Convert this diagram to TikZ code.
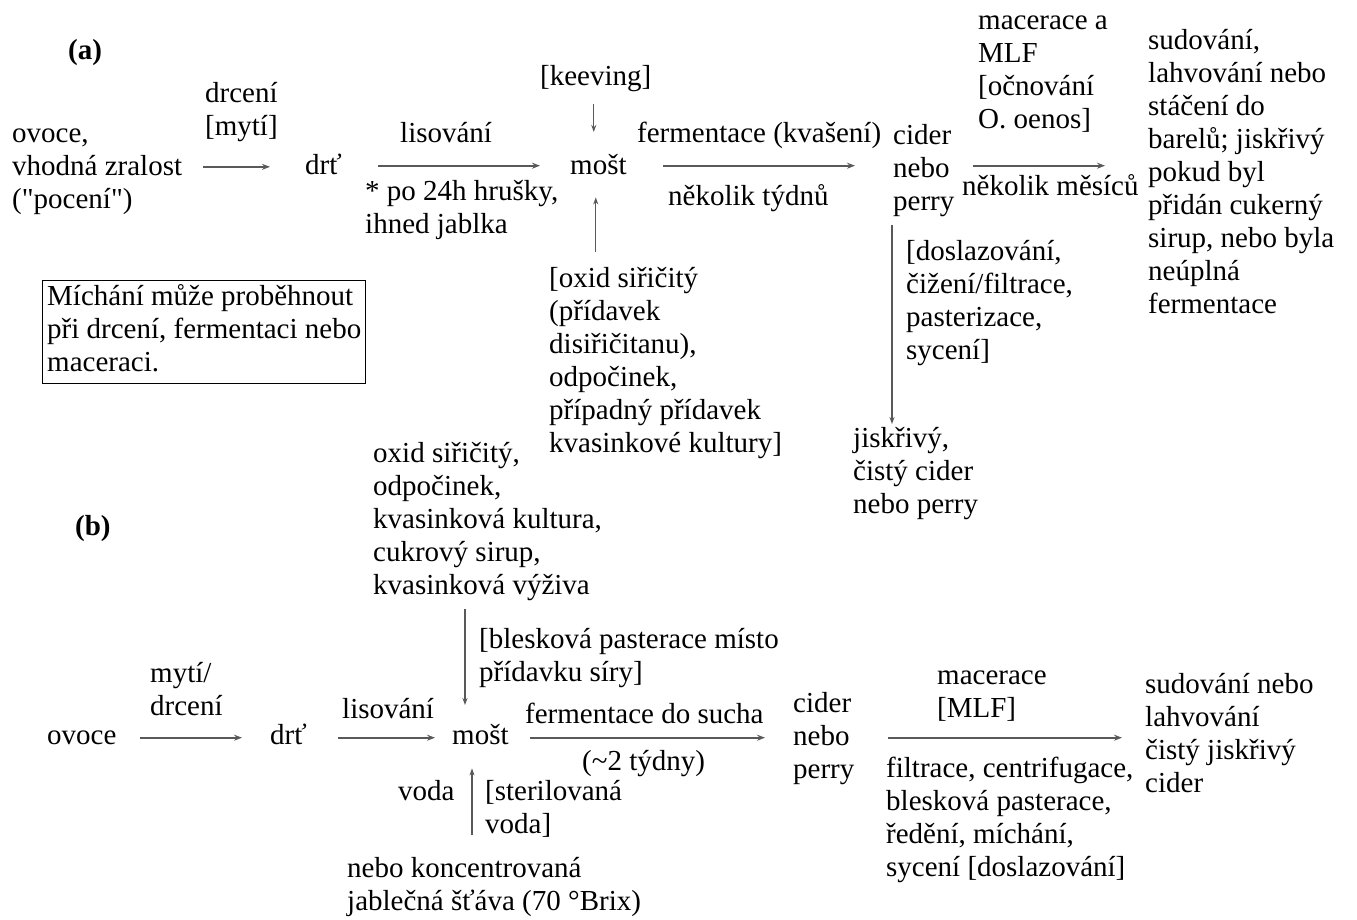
\documentclass[tikz,border=0pt]{standalone}
\usepackage{fontspec}
\setmainfont{Liberation Serif}
\usetikzlibrary{arrows.meta,calc}
\tikzset{
  txt/.style={font=\fontsize{29}{33}\selectfont, align=left, inner sep=0pt, anchor=north west},
  arr/.style={draw=black!65, line width=1.8pt, -{Stealth[length=8pt,width=6pt]}},
  varr/.style={draw=black!65, line width=1.4pt, -{Stealth[length=7pt,width=5pt]}},
  notebox/.style={txt, draw=black, line width=1.4pt, inner xsep=4pt, inner ysep=2pt, minimum width=323pt}
}
\begin{document}
\begin{tikzpicture}[x=1pt,y=-1pt]
\useasboundingbox[fill=white] (0,0) rectangle (1357,920);

% ---------- (a) ----------
\node[txt] (labA) at (68,36) {\strut\textbf{(a)}};
\node[txt] (a_myti) at (205,79) {\strut drcení\\{}[mytí]};
\node[txt] (a_ovoce) at (12,119) {\strut ovoce,\\vhodná zralost\\(\textquotedbl pocení\textquotedbl)};
\node[txt] (a_drt) at (305,151) {\strut drť};
\node[txt] (a_lis) at (400,119) {\strut lisování};
\node[txt] (a_po) at (365,177) {\strut * po 24h hrušky,\\ihned jablka};
\node[txt] (a_keev) at (540,62) {\strut [keeving]};
\node[txt] (a_most) at (570,151) {\strut mošt};
\node[txt] (a_oxid) at (549,264) {\strut [oxid siřičitý\\(přídavek\\disiřičitanu),\\odpočinek,\\případný přídavek\\kvasinkové kultury]};
\node[txt] (a_ferm) at (637,119) {\strut fermentace (kvašení)};
\node[txt] (a_nek) at (668,182) {\strut několik týdnů};
\node[txt] (a_cider) at (893,121) {\strut cider\\nebo\\perry};
\node[txt] (a_mac) at (978,6) {\strut macerace a\\MLF\\{}[očnování\\O. oenos]};
\node[txt] (a_mes) at (962,172) {\strut několik měsíců};
\node[txt] (a_sud) at (1148,26) {\strut sudování,\\lahvování nebo\\stáčení do\\barelů; jiskřivý\\pokud byl\\přidán cukerný\\sirup, nebo byla\\neúplná\\fermentace};
\node[txt] (a_dosl) at (906,237) {\strut [doslazování,\\čižení/filtrace,\\pasterizace,\\sycení]};
\node[txt] (a_jisk) at (853,424) {\strut jiskřivý,\\čistý cider\\nebo perry};
\node[notebox] (a_box) at (42,280) {\strut Míchání může proběhnout\\při drcení, fermentaci nebo\\maceraci.\strut};

\draw[arr] ($(a_ovoce.west)+(191,0)$) -- ($(a_ovoce.west -| a_drt.west)+(-35,0)$);
\draw[arr] ($(a_drt.west)+(73,-2)$) -- ($(a_most.west)+(-30,-2)$);
\draw[arr] ($(a_most.west)+(93,-2)$) -- ($(a_most.west -| a_cider.west)+(-38,-2)$);
\draw[arr] ($(a_most.west -| a_cider.west)+(80,-2)$) -- ($(a_most.west -| a_sud.west)+(-43,-2)$);
\draw[varr] ($(a_keev.south)+(-2,9)$) -- ($(a_keev.south |- a_most.north)+(-2,-19)$);
\draw[varr] ($(a_keev.south |- a_oxid.north)+(0,-12)$) -- ($(a_keev.south |- a_most.south)+(0,13)$);
\draw[varr] ($(a_cider.south west)+(-1,8)$) -- ($(a_cider.south west |- a_jisk.north)+(-1,0)$);

% ---------- (b) ----------
\node[txt] (labB) at (75,512) {\strut\textbf{(b)}};
\node[txt] (b_oxid) at (373,439) {\strut oxid siřičitý,\\odpočinek,\\kvasinková kultura,\\cukrový sirup,\\kvasinková výživa};
\node[txt] (b_bles) at (479,625) {\strut [blesková pasterace místo\\přídavku síry]};
\node[txt] (b_ovoce) at (47,721) {\strut ovoce};
\node[txt] (b_myti) at (150,659) {\strut mytí/\\drcení};
\node[txt] (b_drt) at (270,721) {\strut drť};
\node[txt] (b_lis) at (342,695) {\strut lisování};
\node[txt] (b_most) at (452,721) {\strut mošt};
\node[txt] (b_ferm) at (525,700) {\strut fermentace do sucha};
\node[txt] (b_tydny) at (582,747) {\strut (\textasciitilde 2 týdny)};
\node[txt] (b_voda) at (398,777) {\strut voda};
\node[txt] (b_ster) at (485,777) {\strut [sterilovaná\\voda]};
\node[txt] (b_konc) at (347,854) {\strut nebo koncentrovaná\\jablečná šťáva (70 °Brix)};
\node[txt] (b_cider) at (793,689) {\strut cider\\nebo\\perry};
\node[txt] (b_mac) at (937,661) {\strut macerace\\{}[MLF]};
\node[txt] (b_filt) at (886,754) {\strut filtrace, centrifugace,\\blesková pasterace,\\ředění, míchání,\\sycení [doslazování]};
\node[txt] (b_sud) at (1145,670) {\strut sudování nebo\\lahvování\\čistý jiskřivý\\cider};

\draw[arr] ($(b_ovoce.west)+(93,0)$) -- ($(b_drt.west)+(-28,0)$);
\draw[arr] ($(b_drt.west)+(68,0)$) -- ($(b_most.west)+(-17,0)$);
\draw[arr] ($(b_most.west)+(78,0)$) -- ($(b_most.west -| b_cider.west)+(-28,0)$);
\draw[arr] ($(b_most.west -| b_cider.west)+(95,0)$) -- ($(b_most.west -| b_sud.west)+(-23,0)$);
\draw[varr] ($(b_most.north west |- b_oxid.south)+(13,8)$) -- ($(b_most.north west)+(13,-16)$);
\draw[varr] ($(b_most.south west |- b_konc.north)+(20,-19)$) -- ($(b_most.south west)+(20,14)$);
\end{tikzpicture}
\end{document}
